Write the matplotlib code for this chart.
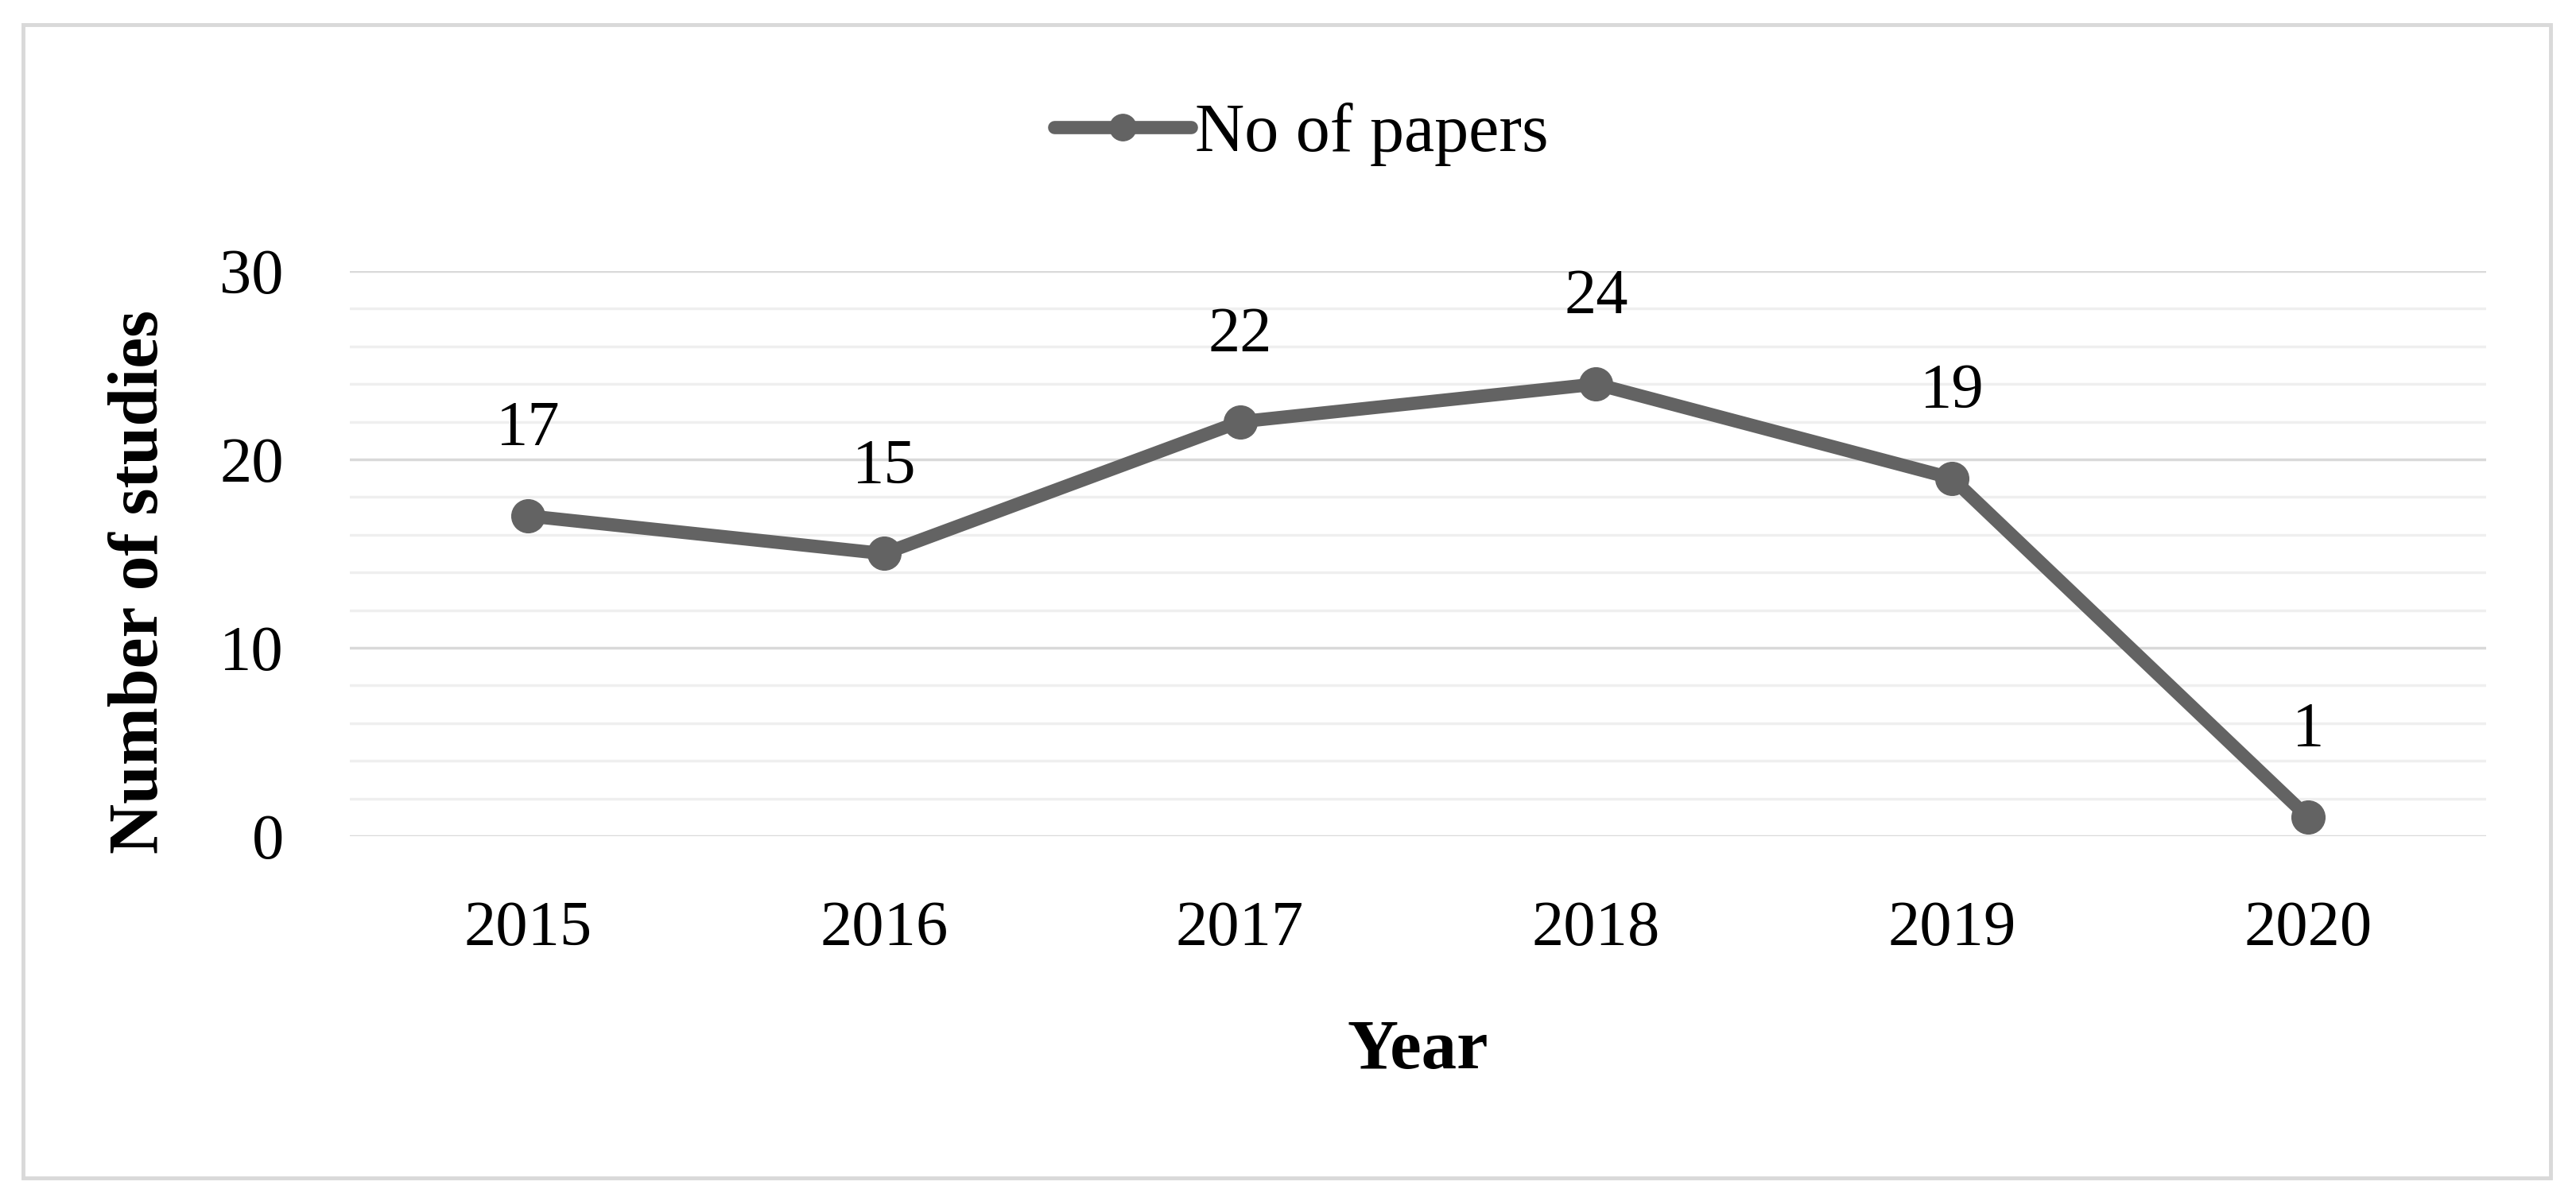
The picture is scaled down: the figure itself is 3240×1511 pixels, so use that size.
import matplotlib.pyplot as plt
from matplotlib.patches import Rectangle

years = ['2015', '2016', '2017', '2018', '2019', '2020']
papers = [17, 15, 22, 24, 19, 1]
yticks = [0, 10, 20, 30]

LINE = '#636363'
FONT = 'Liberation Serif'

fig = plt.figure(figsize=(32.41, 15.11), dpi=100)
ax = fig.add_axes([0.1358, 0.3038, 0.829, 0.4705])

x = list(range(len(years)))
ax.plot(x, papers, color=LINE, lw=12, marker='o', markersize=30,
        label='No of papers', solid_capstyle='round', zorder=3)

for xi, v in zip(x, papers):
    ax.annotate(str(v), (xi, v), xytext=(0, 78), textcoords='offset points',
                ha='center', va='center', fontsize=58, family=FONT)

ax.set_xlim(-0.5, 5.5)
ax.set_ylim(0, 30)
ax.set_xticks(x)
ax.set_xticklabels(years, fontsize=58, family=FONT)
ax.set_yticks(yticks)
ax.set_yticklabels([str(t) for t in yticks], fontsize=58, family=FONT)
ax.set_yticks(range(0, 31, 2), minor=True)
ax.tick_params(axis='y', length=0, pad=60)
ax.tick_params(axis='y', which='minor', length=0)
ax.tick_params(axis='x', length=0, pad=58)

ax.grid(axis='y', which='major', color='#d9d9d9', lw=2.5, zorder=0)
ax.grid(axis='y', which='minor', color='#efefef', lw=2.5, zorder=0)
for s in ax.spines.values():
    s.set_visible(False)

ax.set_xlabel('Year', fontsize=64, family=FONT, fontweight='bold', labelpad=55)
ax.set_ylabel('Number of studies', fontsize=63, family=FONT, fontweight='bold')
ax.yaxis.set_label_coords(-0.083, 0.45)

leg = fig.legend(loc='center', bbox_to_anchor=(0.505, 0.888), frameon=False,
                 prop={'family': FONT, 'size': 62}, handlelength=2.0,
                 handletextpad=0.05, markerscale=0.8)

fig.patches.append(Rectangle((29 / 3241, 29 / 1511), (3208 - 29) / 3241, (1480 - 29) / 1511,
                             transform=fig.transFigure, fill=False,
                             edgecolor='#d9d9d9', lw=3.5))

fig.savefig('out.png', dpi=100, facecolor='white')
